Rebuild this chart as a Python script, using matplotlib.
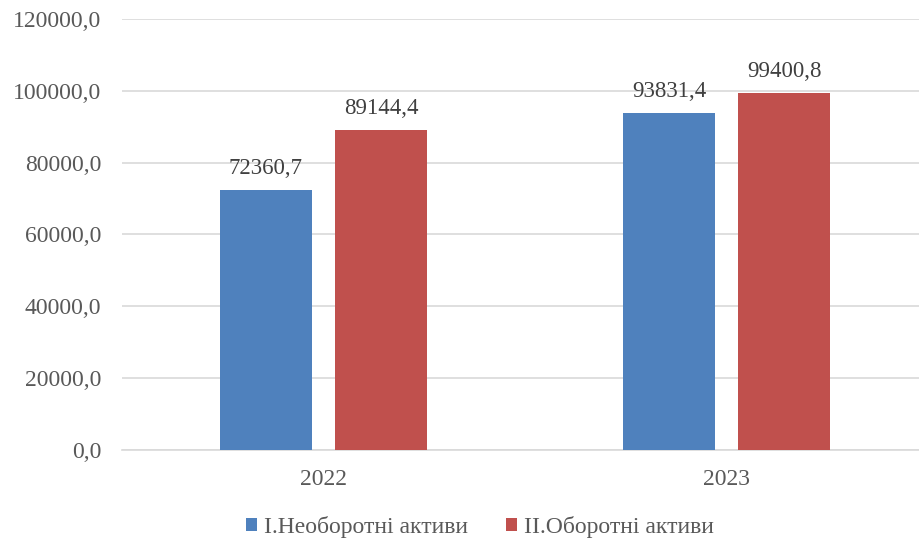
import numpy as np
import matplotlib
matplotlib.use("Agg")
import matplotlib.pyplot as plt
from matplotlib.ticker import FuncFormatter

years = ["2022", "2023"]
non_current = [72360.7, 93831.4]
current = [89144.4, 99400.8]
series_names = ["І.Необоротні активи", "ІІ.Оборотні активи"]

plt.rcParams["font.family"] = ["Liberation Serif", "DejaVu Serif"]
txt = "#595959"
grid = "#D9D9D9"

fig = plt.figure(figsize=(9.19, 5.44), dpi=100)
ax = fig.add_axes([122 / 919, 1 - 450 / 544, 806 / 919, 431 / 544])

x = np.arange(len(years))
w = 0.226
off = 0.1427
b1 = ax.bar(x - off, non_current, w, color="#4F81BD", label=series_names[0], zorder=3)
b2 = ax.bar(x + off, current, w, color="#C0504D", label=series_names[1], zorder=3)

def fmt(v):
    return f"{v:.1f}".replace(".", ",")

for bars, vals in ((b1, non_current), (b2, current)):
    for r, v in zip(bars, vals):
        ax.annotate(fmt(v), (r.get_x() + r.get_width() / 2, v), xytext=(0, 8),
                    textcoords="offset points", ha="center", va="bottom",
                    fontsize=16.5, color="#404040")

ax.set_xlim(-0.5, 1.5)
ax.set_ylim(0, 120000)
ax.set_yticks(np.arange(0, 120001, 20000))
ax.yaxis.set_major_formatter(FuncFormatter(lambda v, p: fmt(v)))
ax.set_xticks(x)
ax.set_xticklabels(years)
ax.grid(axis="y", color=grid, linewidth=1.2, zorder=0)
for s in ("top", "right", "left"):
    ax.spines[s].set_visible(False)
ax.spines["bottom"].set_color(grid)
ax.spines["bottom"].set_linewidth(1.2)
ax.tick_params(axis="both", length=0, labelsize=17, colors=txt)
ax.tick_params(axis="y", pad=15)
ax.tick_params(axis="x", pad=14)

ax.legend(loc="center", bbox_to_anchor=(480 / 919, 1 - 527 / 544), bbox_transform=fig.transFigure,
          ncol=2, frameon=False, fontsize=17, handlelength=0.45, handleheight=0.45,
          columnspacing=1.6, handletextpad=0.3, labelcolor=txt)

fig.savefig("out.png", dpi=100)
